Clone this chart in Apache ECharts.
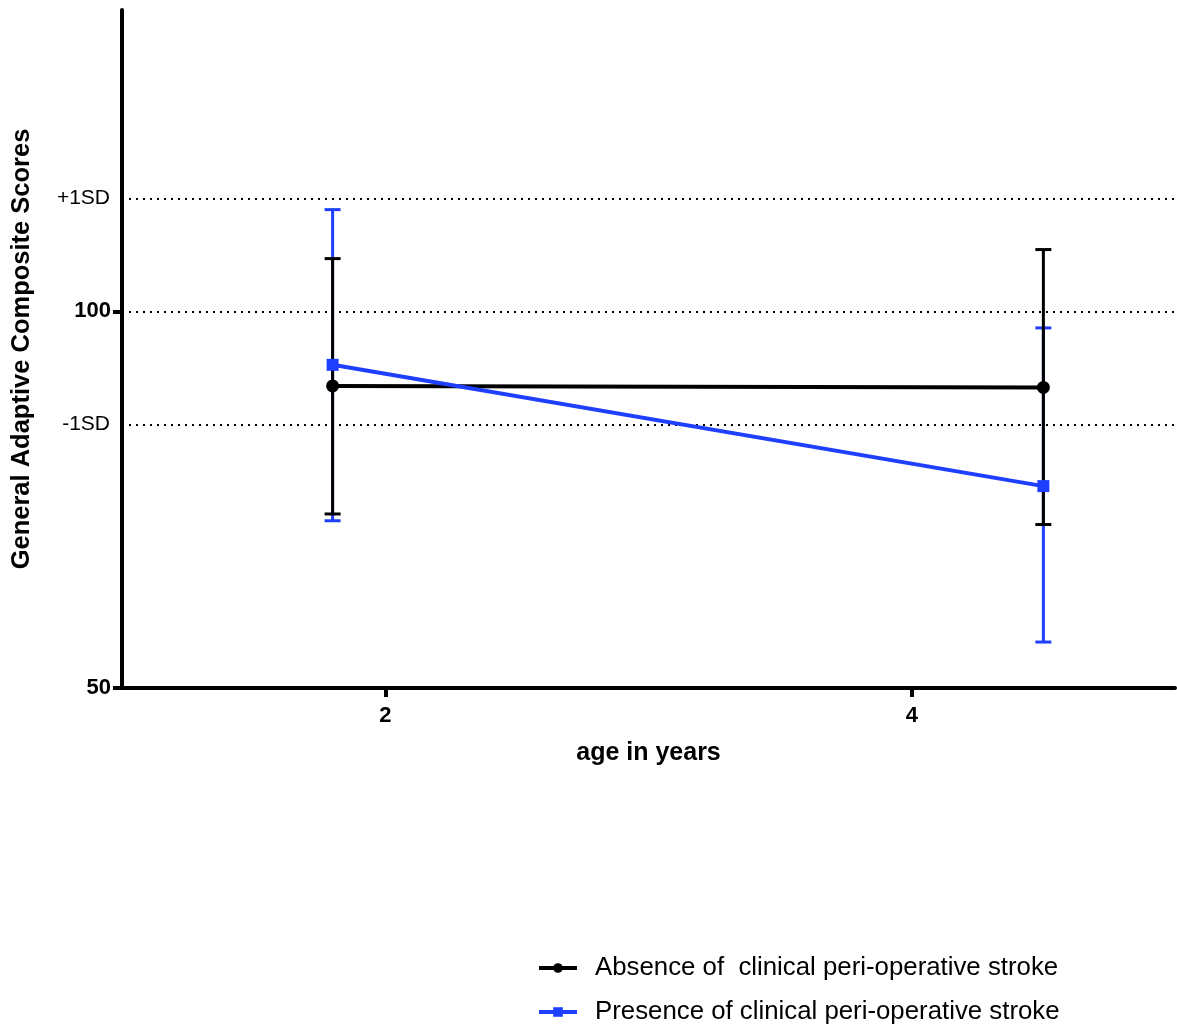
<!DOCTYPE html>
<html>
<head>
<meta charset="utf-8">
<script src="https://cdn.jsdelivr.net/npm/echarts@6/dist/echarts.min.js"></script>
<style>html,body{margin:0;padding:0;background:#fff}#c{width:1177px;height:1028px}</style>
</head>
<body>
<div id="c"></div>
<script>
const ages = [1.8, 4.5];
const absenceMean = [90.1, 89.9];
const absenceLow = [73.1, 71.7];
const absenceHigh = [107.0, 108.2];
const presenceMean = [92.9, 76.8];
const presenceLow = [72.2, 56.1];
const presenceHigh = [113.5, 97.8];
const sdValues = [115, 100, 85];
const sdLabels = ['+1SD', '', '-1SD'];
const yTickValues = [50, 100];
const xTickValues = [2, 4];
const seriesNames = ['Absence of  clinical peri-operative stroke', 'Presence of clinical peri-operative stroke'];

const BLACK = '#000000';
const BLUE = '#1f3fff';
const FONT = 'Liberation Sans, Arial, sans-serif';

function errData(low, high) {
  return ages.map((a, i) => [a, low[i], high[i]]);
}
function errRender(color, width) {
  return function (params, api) {
    const x = api.value(0);
    const lo = api.coord([x, api.value(1)]);
    const hi = api.coord([x, api.value(2)]);
    const hw = 8;
    const style = { stroke: color, lineWidth: width };
    return {
      type: 'group',
      children: [
        { type: 'line', shape: { x1: lo[0], y1: lo[1], x2: hi[0], y2: hi[1] }, style },
        { type: 'line', shape: { x1: lo[0] - hw, y1: lo[1], x2: lo[0] + hw, y2: lo[1] }, style },
        { type: 'line', shape: { x1: hi[0] - hw, y1: hi[1], x2: hi[0] + hw, y2: hi[1] }, style }
      ]
    };
  };
}

const chart = echarts.init(document.getElementById('c'), null, { renderer: 'canvas' });
chart.setOption({
  animation: false,
  backgroundColor: '#fff',
  textStyle: { fontFamily: FONT },
  grid: { left: 122, right: 2, top: 10, bottom: 340, containLabel: false, outerBoundsMode: 'none' },
  legend: {
    orient: 'vertical',
    left: 537,
    top: 955,
    height: 73,
    padding: 0,
    itemGap: 18,
    itemWidth: 38,
    itemHeight: 12,
    data: seriesNames,
    lineStyle: { width: 4 },
    textStyle: { fontSize: 25.8, color: '#000', fontFamily: FONT, padding: [0, 0, 0, 13] }
  },
  xAxis: {
    type: 'value',
    min: 1,
    max: 5,
    name: 'age in years',
    nameLocation: 'middle',
    nameGap: 53,
    nameTextStyle: { fontSize: 25, fontWeight: 'bold', color: '#000', fontFamily: FONT },
    axisLine: { onZero: false, lineStyle: { color: BLACK, width: 4 } },
    axisTick: { show: true, customValues: xTickValues, length: 9, lineStyle: { color: BLACK, width: 4 } },
    axisLabel: { customValues: xTickValues, fontSize: 22, fontWeight: 'bold', color: '#000', margin: 17, fontFamily: FONT },
    splitLine: { show: false }
  },
  yAxis: {
    type: 'value',
    min: 50,
    max: 140,
    name: 'General Adaptive Composite Scores',
    nameLocation: 'middle',
    nameGap: 87,
    nameTextStyle: { fontSize: 25.5, fontWeight: 'bold', color: '#000', fontFamily: FONT },
    axisLine: { show: true, onZero: false, lineStyle: { color: BLACK, width: 4 } },
    axisTick: { show: true, customValues: yTickValues, length: 9, lineStyle: { color: BLACK, width: 4 } },
    axisLabel: { customValues: yTickValues, fontSize: 22, fontWeight: 'bold', color: '#000', margin: 11, fontFamily: FONT },
    splitLine: { show: false }
  },
  series: [
    {
      name: 'sd',
      type: 'line',
      data: [],
      z: 1,
      silent: true,
      markLine: {
        silent: true,
        symbol: 'none',
        animation: false,
        lineStyle: { color: BLACK, width: 2, type: [2, 5] },
        label: { position: 'start', distance: 12, fontSize: 21, color: '#000', fontFamily: FONT,
          formatter: p => sdLabels[sdValues.indexOf(p.value)] },
        emphasis: { disabled: true },
        data: sdValues.map(v => ({ yAxis: v }))
      }
    },
    {
      name: 'presenceErr',
      type: 'custom',
      z: 2,
      data: errData(presenceLow, presenceHigh),
      encode: { x: 0, y: [1, 2] },
      renderItem: errRender(BLUE, 3)
    },
    {
      name: 'absenceErr',
      type: 'custom',
      z: 3,
      data: errData(absenceLow, absenceHigh),
      encode: { x: 0, y: [1, 2] },
      renderItem: errRender(BLACK, 3)
    },
    {
      name: seriesNames[0],
      type: 'line',
      z: 4,
      data: ages.map((a, i) => [a, absenceMean[i]]),
      symbol: 'circle',
      symbolSize: 13,
      lineStyle: { color: BLACK, width: 4 },
      itemStyle: { color: BLACK }
    },
    {
      name: seriesNames[1],
      type: 'line',
      z: 5,
      data: ages.map((a, i) => [a, presenceMean[i]]),
      symbol: 'rect',
      symbolSize: 12,
      lineStyle: { color: BLUE, width: 4 },
      itemStyle: { color: BLUE }
    }
  ]
});
</script>
</body>
</html>
